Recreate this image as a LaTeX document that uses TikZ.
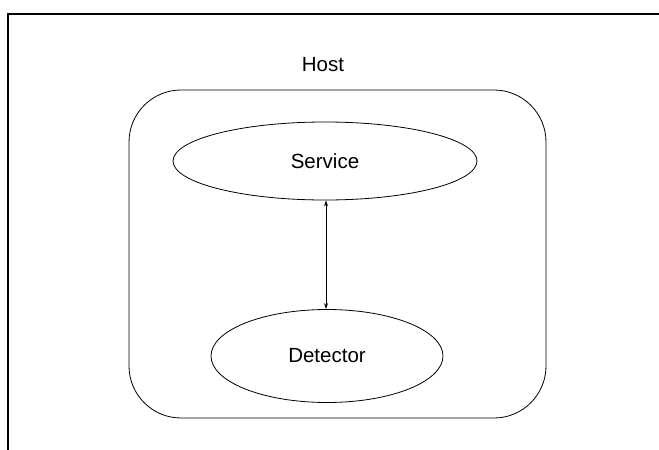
\documentclass[tikz,border=0pt]{standalone}
\usepackage{fontspec}
\setmainfont{Liberation Sans}
\usetikzlibrary{shapes.geometric,arrows.meta}
\begin{document}
\begin{tikzpicture}[x=1pt,y=1pt,
  proc/.style={draw, ellipse, line width=0.8pt, inner sep=0pt, font=\fontsize{20.5}{24}\selectfont},
  lbl/.style={font=\fontsize{20.5}{24}\selectfont},
  link/.style={line width=0.7pt, {Stealth[length=6pt,width=4pt]}-{Stealth[length=6pt,width=4pt]}}]
\useasboundingbox (0,0) rectangle (659,-450);
\coordinate (fb) at (8,-450);
\coordinate (ftl) at (8,-14);
\coordinate (ftr) at (659,-14);
\draw[line width=2pt] (fb) -- (ftl) -- (ftr);
\draw[line width=0.8pt, rounded corners=52pt] (129,-90) rectangle (546,-418);
\node[lbl] (host) at (323,-65) {Host};
\node[proc, minimum width=304pt, minimum height=78pt] (service) at (325,-161) {Service};
\node[proc, minimum width=232pt, minimum height=93pt] (detector) at (327,-356) {Detector};
\draw[link] (service.south -| 326,0) -- (detector.north -| 326,0);
\end{tikzpicture}
\end{document}
